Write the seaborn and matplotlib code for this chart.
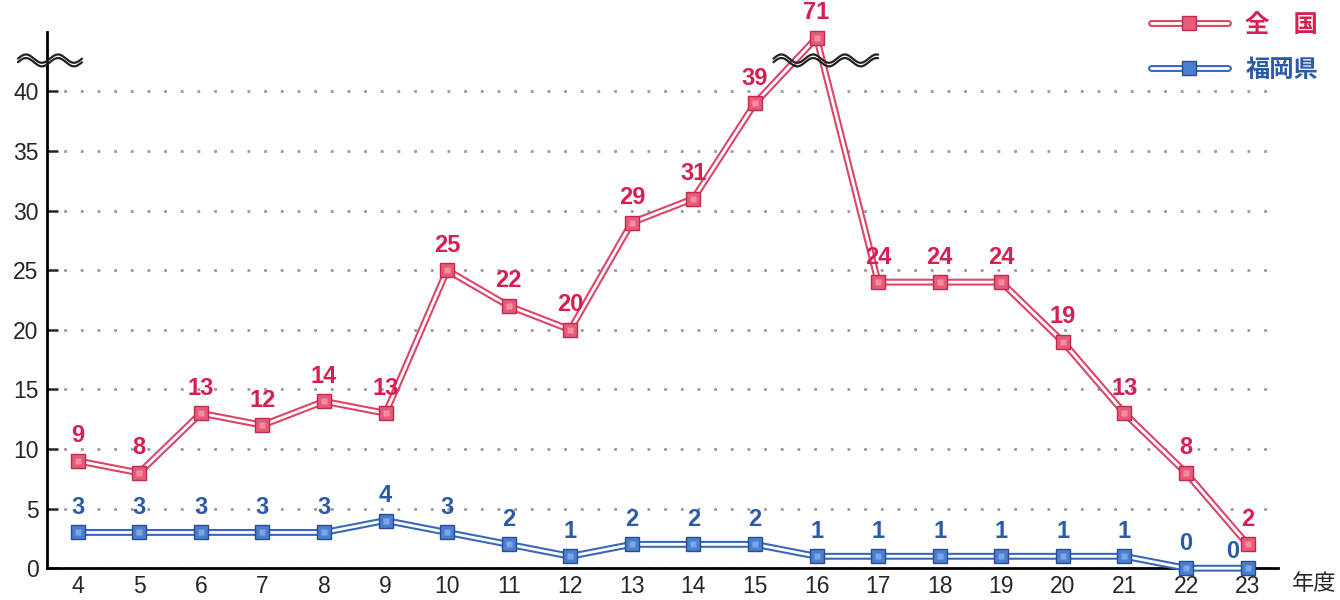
import numpy as np
import pandas as pd
import matplotlib
matplotlib.use("Agg")
import matplotlib.pyplot as plt
from matplotlib.lines import Line2D
from matplotlib.legend_handler import HandlerTuple
import seaborn as sns

sns.set_style("white")
plt.rcParams['font.family'] = ['Liberation Sans', 'Noto Sans CJK JP', 'DejaVu Sans']

# data (fiscal years, Heisei)
years = [4, 5, 6, 7, 8, 9, 10, 11, 12, 13, 14, 15, 16, 17, 18, 19, 20, 21, 22, 23]
national = [9, 8, 13, 12, 14, 13, 25, 22, 20, 29, 31, 39, 71, 24, 24, 24, 19, 13, 8, 2]
fukuoka = [3, 3, 3, 3, 3, 4, 3, 2, 1, 2, 2, 2, 1, 1, 1, 1, 1, 1, 0, 0]
series_names = ["全　国", "福岡県"]
y_ticks = [0, 5, 10, 15, 20, 25, 30, 35, 40]
break_at = 44.5   # where values above the axis break are drawn
year_unit = "年度"

red = "#dc4468"
red_dark = "#c02a4e"
red_face = "#ea5a78"
red_text = "#d81e50"
blue = "#3a68b8"
blue_dark = "#284c92"
blue_face = "#4a7fd0"
blue_text = "#2c5aa8"

df = pd.DataFrame({"year": years, "national": national, "fukuoka": fukuoka})
df["national_plot"] = df["national"].clip(upper=break_at)

fig = plt.figure(figsize=(13.4, 6), dpi=100)
ax = fig.add_axes([0.035, 0.053, 0.919, 0.894])

# double lines: thick coloured stroke with a thin white core
for col, c in [("fukuoka", blue), ("national_plot", red)]:
    z = 3 if col == "fukuoka" else 5
    sns.lineplot(data=df, x="year", y=col, color=c, lw=5, ax=ax, zorder=z)
    sns.lineplot(data=df, x="year", y=col, color="white", lw=2, ax=ax, zorder=z + 0.1)
for ln in ax.lines:
    ln.set_clip_on(False)

for col, z, fc, ec, hi in [("fukuoka", 4, blue_face, blue_dark, "#9fc0f2"),
                           ("national_plot", 6, red_face, red_dark, "#f8b0c0")]:
    ax.plot(df["year"], df[col], ls="none", marker="s", ms=10.5, mfc=fc, mec=ec, mew=1,
            zorder=z, clip_on=False)
    ax.plot(df["year"], df[col], ls="none", marker="s", ms=5, mfc=hi, mec="none",
            alpha=0.6, zorder=z + 0.1, clip_on=False)

# value labels
for x, v, yp in zip(df["year"], df["national"], df["national_plot"]):
    ax.annotate(str(v), (x, yp), xytext=(0, 18), textcoords="offset points",
                ha="center", va="center", fontsize=17, fontweight="bold", color=red_text, zorder=8)
for i, (x, v) in enumerate(zip(df["year"], df["fukuoka"])):
    off = (-11, 12) if i == len(years) - 1 else (0, 18)
    ax.annotate(str(v), (x, v), xytext=off, textcoords="offset points",
                ha="center", va="center", fontsize=17, fontweight="bold", color=blue_text, zorder=8)

# axes
ax.set_xlim(3.5, 23.5)
ax.set_ylim(0, 45)
ax.set_xticks(years)
ax.set_xticklabels([str(y) for y in years])
ax.set_xticks([y + 0.5 for y in years], minor=True)
ax.set_yticks(y_ticks)
ax.tick_params(axis="x", which="major", length=0, labelsize=16.5, pad=5)
ax.tick_params(axis="x", which="minor", direction="in", length=8, width=1.8, color="black")
ax.tick_params(axis="y", direction="in", length=8, width=1.8, labelsize=16.5, pad=6, left=True)
ax.set_xlabel("")
ax.set_ylabel("")
for s in ["top", "right"]:
    ax.spines[s].set_visible(False)
for s in ["left", "bottom"]:
    ax.spines[s].set_linewidth(2)
    ax.spines[s].set_color("black")
    ax.spines[s].set_zorder(2)
ax.yaxis.grid(True, linestyle=(0, (1, 5)), color="#9a9a9a", lw=2)
ax.set_axisbelow(True)

fig.text(0.997, 0.028, year_unit, ha="right", va="center",
         fontsize=16, fontfamily=["Noto Sans CJK JP", "DejaVu Sans"])

# axis break squiggles
def squiggle(x0, x1, y, periods):
    t = np.linspace(0, 1, 200)
    xs = x0 + (x1 - x0) * t
    ys = y + 0.35 * np.sin(2 * np.pi * periods * t)
    for yy in (ys - 0.15, ys + 0.15):
        ax.plot(xs, yy, color="#222222", lw=1.6, clip_on=False, zorder=9)

squiggle(3.03, 4.07, 42.6, 2)
squiggle(15.3, 17.0, 42.6, 3.3)

# legend
red_h = (Line2D([], [], color=red, lw=5), Line2D([], [], color="white", lw=2),
         Line2D([], [], ls="none", marker="s", ms=10.5, mfc=red_face, mec=red_dark))
blue_h = (Line2D([], [], color=blue, lw=5), Line2D([], [], color="white", lw=2),
          Line2D([], [], ls="none", marker="s", ms=10.5, mfc=blue_face, mec=blue_dark))
leg = fig.legend([red_h, blue_h], series_names, handler_map={tuple: HandlerTuple(ndivide=1)},
                 loc="upper right", bbox_to_anchor=(1.0, 1.015), frameon=False,
                 handlelength=3.2, labelspacing=0.85, handletextpad=0.7,
                 prop={"family": ["Noto Sans CJK JP", "DejaVu Sans"], "weight": "bold", "size": 17.5})
for t, c in zip(leg.get_texts(), [red_text, blue_text]):
    t.set_color(c)

fig.savefig("out.png", dpi=100)
